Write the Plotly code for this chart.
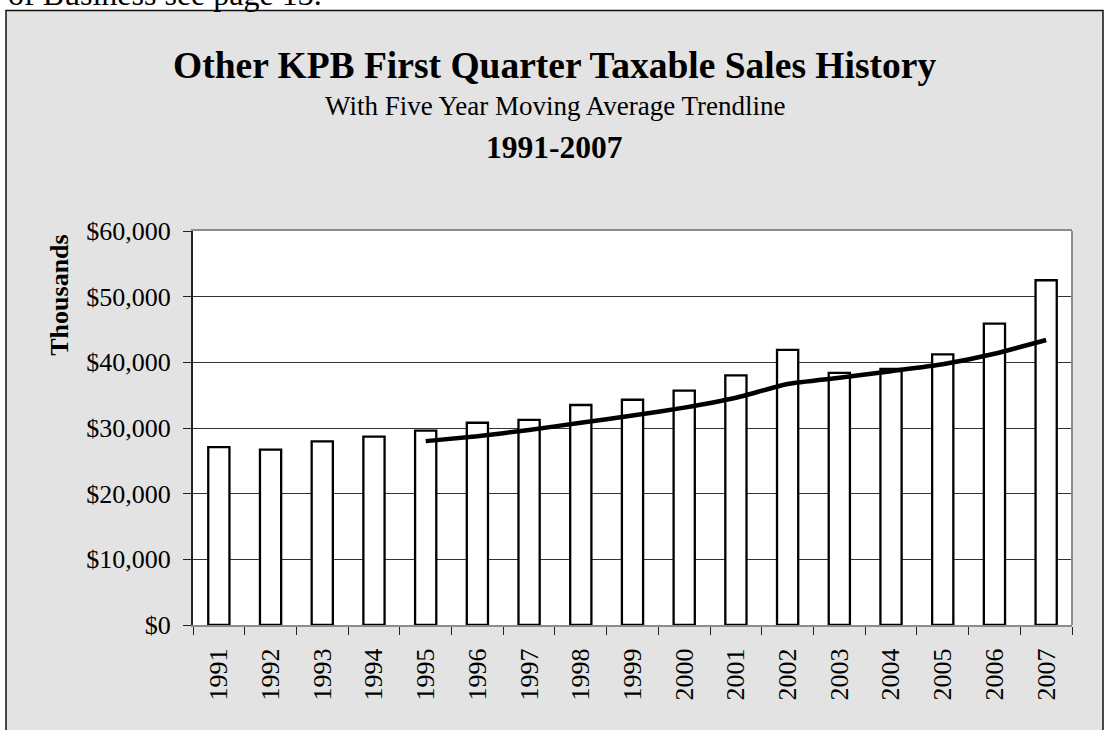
import plotly.graph_objects as go

# first quarter taxable sales, dollars (in thousands)
years = [str(y) for y in range(1991, 2008)]
sales = [27100, 26700, 27950, 28700, 29600, 30800, 31250, 33500, 34300,
         35700, 38000, 41900, 38400, 39000, 41200, 45900, 52500]

# five year moving average trendline
trend_years = [str(y) for y in range(1995, 2008)]
trend = [28000, 28750, 29700, 30800, 31900, 33100, 34600, 36700, 37650,
         38650, 39700, 41300, 43400]

W, H = 1110, 730
L, R, T, B = 193, 1072, 230.7, 625  # plot area in pixels
FONT = "Liberation Serif"


def px(x):
    return (x - L) / (R - L)


def py(y):
    return (B - y) / (B - T)


fig = go.Figure()
fig.add_trace(go.Bar(
    x=years, y=sales, marker_color="white",
    marker_line_color="black", marker_line_width=2.3, showlegend=False,
))
fig.add_trace(go.Scatter(
    x=trend_years, y=trend, mode="lines",
    line=dict(color="black", width=4.5, shape="spline", smoothing=0.5),
    showlegend=False,
))

fig.update_layout(
    width=W, height=H,
    margin=dict(l=L, r=W - R, t=T, b=H - B),
    paper_bgcolor="#e3e3e3", plot_bgcolor="white",
    font=dict(family=FONT, size=26, color="black"),
    bargap=0.59,
)

fig.update_xaxes(
    type="category", tickson="boundaries", ticks="outside", ticklen=8,
    tickcolor="#222", tickangle=-90, showline=True, linecolor="#8c8c8c",
    linewidth=2, mirror=True, showgrid=False, ticklabelstandoff=11,
)
fig.update_yaxes(
    range=[0, 60000], dtick=10000, tickprefix="$", tickformat=",d",
    ticks="outside", ticklen=8, tickcolor="#222", showline=True,
    linecolor="#222", linewidth=2, showgrid=True, gridcolor="#333",
    gridwidth=1, zeroline=False, ticklabelstandoff=7,
)

# white page around the gray chart panel, then the panel frame
x_out0, x_out1, y_out0, y_out1 = px(-10), px(W + 10), py(H + 10), py(-10)
for x0, x1, y0, y1 in [
    (x_out0, x_out1, py(10), y_out1),
    (x_out0, px(6), y_out0, y_out1),
    (px(1103), x_out1, y_out0, y_out1),
]:
    fig.add_shape(type="rect", xref="paper", yref="paper",
                  x0=x0, x1=x1, y0=y0, y1=y1,
                  fillcolor="white", line_width=0, layer="below")
fig.add_shape(type="rect", xref="paper", yref="paper",
              x0=px(6), x1=px(1103), y0=py(H + 10), y1=py(10),
              line=dict(color="#111", width=1.5))
# right edge of the plot area is gray
fig.add_shape(type="line", xref="paper", yref="paper",
              x0=1, x1=1, y0=0, y1=1, line=dict(color="#8c8c8c", width=2))

cx = px(554.5)
texts = [
    ("<b>Other KPB First Quarter Taxable Sales History</b>", cx, py(65.5), 37.5, 0),
    ("With Five Year Moving Average Trendline", cx, py(105.3), 27, 0),
    ("<b>1991-2007</b>", cx, py(147.5), 31.5, 0),
    ("<b>Thousands</b>", px(60), py(295.5), 26, -90),
]
for text, x, y, size, angle in texts:
    fig.add_annotation(text=text, x=x, y=y, xref="paper", yref="paper",
                       xanchor="center", yanchor="middle", textangle=angle,
                       showarrow=False, font=dict(size=size))
# tail of the page text above the chart, mostly cut off
fig.add_annotation(text="of Business see page 13.", x=px(6), y=py(-6),
                   xref="paper", yref="paper", xanchor="left",
                   yanchor="middle", showarrow=False, font=dict(size=32))

fig.write_html("out.html", config={"displayModeBar": False},
               post_script="document.body.style.margin='0';")
